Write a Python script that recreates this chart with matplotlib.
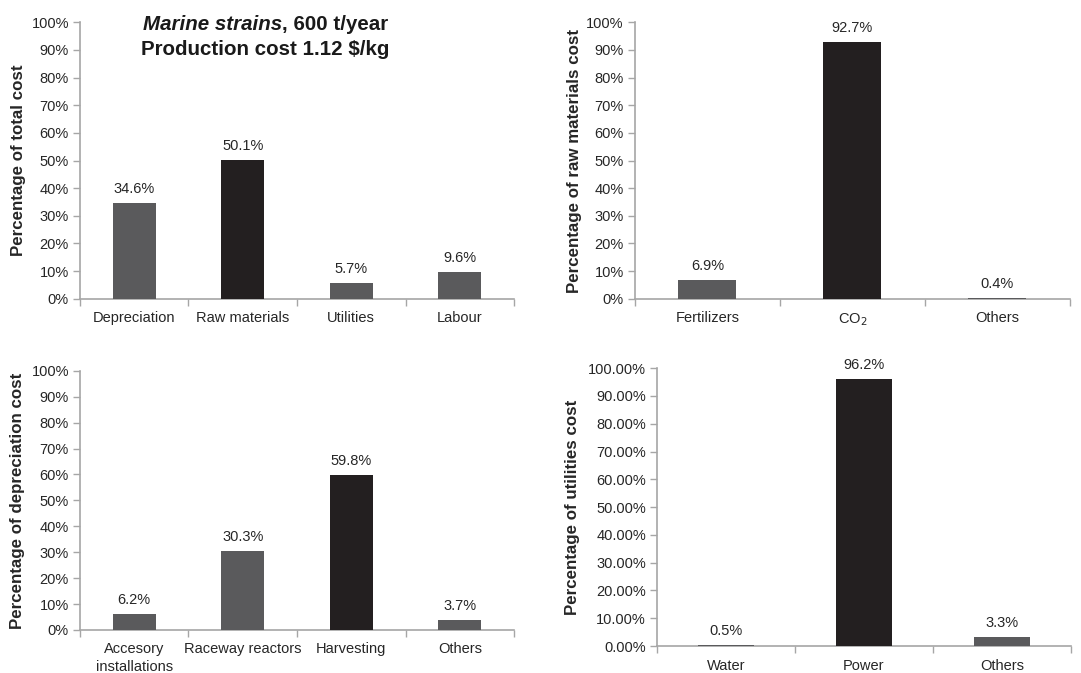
import matplotlib.pyplot as plt
from matplotlib.ticker import FuncFormatter

plt.rcParams['font.family'] = ['Liberation Sans', 'DejaVu Sans']

# DATA
total_cats = ['Depreciation', 'Raw materials', 'Utilities', 'Labour']
total_vals = [34.6, 50.1, 5.7, 9.6]

raw_cats = ['Fertilizers', 'CO$_2$', 'Others']
raw_vals = [6.9, 92.7, 0.4]

dep_cats = ['Accesory\ninstallations', 'Raceway reactors', 'Harvesting', 'Others']
dep_vals = [6.2, 30.3, 59.8, 3.7]

util_cats = ['Water', 'Power', 'Others']
util_vals = [0.5, 96.2, 3.3]

GREY = '#5a5a5c'
BLACK = '#231f20'
AXC = '#a6a6a6'
TXT = '#262626'

fig = plt.figure(figsize=(10.81, 6.73), dpi=100)


def panel(rect, cats, vals, ylabel, label_x, fmt='%d%%'):
    ax = fig.add_axes(rect)
    n = len(cats)
    big = max(range(n), key=lambda i: vals[i])
    cols = [BLACK if i == big else GREY for i in range(n)]
    x = list(range(n))
    ax.bar(x, vals, width=0.4, color=cols, zorder=3)
    for xi, v in zip(x, vals):
        ax.annotate('%.1f%%' % v, (xi, v), xytext=(0, 5), textcoords='offset points',
                    ha='center', va='bottom', fontsize=10.5, color=TXT)
    ax.set_xlim(-0.5, n - 0.5)
    ax.set_ylim(0, 100)
    ax.set_yticks(range(0, 101, 10))
    ax.yaxis.set_major_formatter(FuncFormatter(lambda v, p: fmt % v))
    ax.set_xticks(x)
    ax.set_xticklabels(cats, fontsize=10.5, color=TXT, linespacing=1.3)
    ax.set_xticks([i - 0.5 for i in range(n + 1)], minor=True)
    ax.tick_params(axis='x', which='major', length=0, pad=9)
    ax.tick_params(axis='x', which='minor', length=5, color=AXC, width=1)
    ax.tick_params(axis='y', length=5, color=AXC, width=1, labelsize=10.5, labelcolor=TXT, pad=3)
    for s in ['top', 'right']:
        ax.spines[s].set_visible(False)
    for s in ['left', 'bottom']:
        ax.spines[s].set_color(AXC)
        ax.spines[s].set_linewidth(1.2)
    ax.set_ylabel(ylabel, fontsize=12.2, fontweight='bold', color=TXT)
    ax.yaxis.set_label_coords(label_x, 0.5)
    return ax


panel([0.074, 0.556, 0.4015, 0.411], total_cats, total_vals,
      'Percentage of total cost', -0.125)
panel([0.5874, 0.556, 0.4024, 0.411], raw_cats, raw_vals,
      'Percentage of raw materials cost', -0.122)
panel([0.074, 0.064, 0.4015, 0.385], dep_cats, dep_vals,
      'Percentage of depreciation cost', -0.127)
panel([0.6078, 0.040, 0.3829, 0.413], util_cats, util_vals,
      'Percentage of utilities cost', -0.186, fmt='%.2f%%')

# title in first panel
fig.text(0.261, 0.964, 'Marine strains', style='italic', fontweight='bold',
         fontsize=14.8, ha='right', va='center', color='#1a1a1a')
fig.text(0.261, 0.964, ', 600 t/year', fontweight='bold',
         fontsize=14.8, ha='left', va='center', color='#1a1a1a')
fig.text(0.245, 0.927, r'Production cost 1.12 \$/kg', fontweight='bold',
         fontsize=14.8, ha='center', va='center', color='#1a1a1a')

fig.savefig('out.png', dpi=100)
